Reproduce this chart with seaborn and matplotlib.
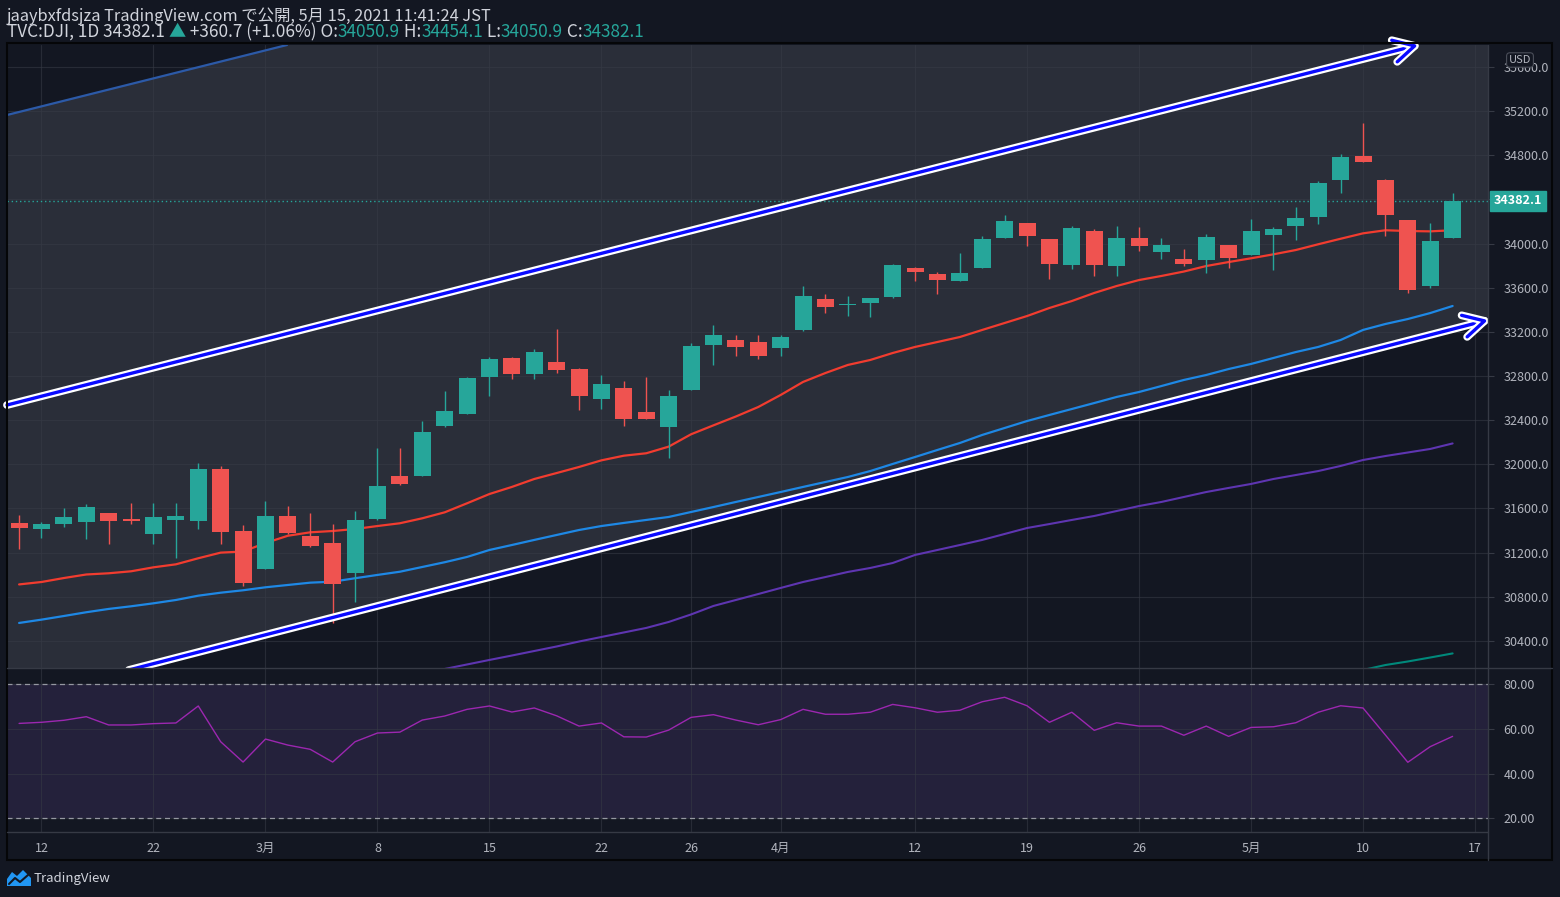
import numpy as np
import pandas as pd
import matplotlib
matplotlib.use("Agg")
import matplotlib.pyplot as plt
import matplotlib.patheffects as pe
from matplotlib.patches import Rectangle, Polygon
from matplotlib.lines import Line2D
import seaborn as sns

# ---------------------------------------------------
# Data (DJI daily, Feb 11 - May 14 2021)

dates = [
    "02-11", "02-12", "02-16", "02-17", "02-18", "02-19", "02-22", "02-23", "02-24", "02-25", "02-26",
    "03-01", "03-02", "03-03", "03-04", "03-05", "03-08", "03-09", "03-10", "03-11", "03-12",
    "03-15", "03-16", "03-17", "03-18", "03-19", "03-22", "03-23", "03-24", "03-25", "03-26",
    "03-29", "03-30", "03-31", "04-01", "04-05", "04-06", "04-07", "04-08", "04-09",
    "04-12", "04-13", "04-14", "04-15", "04-16", "04-19", "04-20", "04-21", "04-22", "04-23",
    "04-26", "04-27", "04-28", "04-29", "04-30", "05-03", "05-04", "05-05", "05-06", "05-07",
    "05-10", "05-11", "05-12", "05-13", "05-14",
]

opens = [
    31469, 31414, 31462, 31480, 31559, 31505, 31372, 31498, 31489, 31958, 31396,
    31055, 31532, 31351, 31287, 31018, 31507, 31894, 31897, 32350, 32459,
    32794, 32963, 32821, 32927, 32863, 32594, 32691, 32474, 32341, 32676,
    33083, 33126, 33110, 33054, 33219, 33497, 33440, 33464, 33518,
    33778, 33724, 33663, 33781, 34052, 34186, 34041, 33808, 34113, 33799,
    34050, 33926, 33860, 33853, 33986, 33899, 34080, 34161, 34243, 34578,
    34792, 34575, 34213, 33618, 34050.9,
]
highs = [
    31541, 31478, 31602, 31641, 31562, 31650, 31650, 31650, 32009, 31985, 31450,
    31668, 31622, 31559, 31460, 31577, 32148, 32148, 32392, 32664, 32791,
    32972, 32970, 33044, 33226, 32870, 32809, 32755, 32791, 32673, 33099,
    33262, 33171, 33170, 33167, 33615, 33543, 33524, 33510, 33815,
    33787, 33742, 33914, 34068, 34258, 34190, 34045, 34158, 34131, 34158,
    34149, 34050, 33950, 34086, 33990, 34222, 34149, 34331, 34566, 34811,
    35091, 34580, 34215, 34186, 34454.1,
]
lows = [
    31233, 31335, 31435, 31324, 31278, 31462, 31278, 31154, 31417, 31281, 30901,
    31050, 31369, 31251, 30560, 30756, 31500, 31813, 31890, 32341, 32455,
    32622, 32776, 32776, 32830, 32495, 32504, 32350, 32410, 32060, 32670,
    32902, 32981, 32950, 32985, 33210, 33373, 33346, 33337, 33510,
    33663, 33545, 33660, 33775, 34050, 33980, 33681, 33772, 33708, 33708,
    33935, 33862, 33799, 33736, 33781, 33895, 33763, 34034, 34179, 34460,
    34735, 34071, 33554, 33600, 34050.9,
]
closes = [
    31427, 31460, 31523, 31613, 31489, 31487, 31523, 31535, 31958, 31390, 30928,
    31532, 31381, 31263, 30919, 31496, 31804, 31824, 32293, 32483, 32782,
    32954, 32821, 33017, 32857, 32622, 32727, 32413, 32413, 32619, 33072,
    33171, 33063, 32982, 33153, 33524, 33428, 33446, 33506, 33805,
    33745, 33672, 33733, 34041, 34204, 34071, 33817, 34140, 33808, 34050,
    33980, 33986, 33817, 34059, 33871, 34113, 34131, 34231, 34548, 34783,
    34741, 34261, 33582, 34023, 34382.1,
]

ma_red = [
    30912, 30934, 30970, 31002, 31013, 31031, 31067, 31094, 31149, 31200, 31210,
    31287, 31353, 31384, 31396, 31414, 31441, 31466, 31511, 31565, 31647,
    31731, 31795, 31867, 31921, 31976, 32036, 32078, 32100, 32160, 32272,
    32353, 32433, 32519, 32628, 32746, 32827, 32900, 32945, 33008,
    33063, 33108, 33153, 33217, 33280, 33343, 33416, 33479, 33552, 33615,
    33669, 33706, 33746, 33796, 33832, 33866, 33902, 33941, 33993, 34043,
    34092, 34120, 34113, 34110, 34120,
]
ma_blue = [
    30563, 30593, 30626, 30660, 30690, 30714, 30741, 30771, 30810, 30837, 30859,
    30886, 30907, 30928, 30937, 30968, 30998, 31027, 31070, 31113, 31161,
    31224, 31269, 31315, 31360, 31405, 31441, 31469, 31496, 31523, 31568,
    31613, 31659, 31704, 31749, 31795, 31840, 31885, 31939, 32003,
    32066, 32130, 32193, 32266, 32329, 32392, 32447, 32501, 32555, 32610,
    32655, 32709, 32764, 32809, 32863, 32909, 32963, 33017, 33063, 33126,
    33217, 33271, 33316, 33370, 33434,
]
# purple line is only visible from Mar 9 on
ma_purple = [np.nan] * 17 + [
    30065, 30105, 30146, 30187, 30228, 30268, 30309, 30350, 30395, 30436,
    30477, 30518, 30572, 30640, 30717, 30771, 30825, 30880, 30934, 30979,
    31025, 31061, 31106, 31179, 31224, 31269, 31315, 31369, 31423, 31459,
    31496, 31532, 31577, 31622, 31659, 31704, 31749, 31786, 31822, 31867,
    31903, 31939, 31985, 32039, 32075, 32107, 32139, 32189,
]
# teal line only visible on the last days
ma_teal = [np.nan] * 60 + [30137, 30182, 30214, 30250, 30287]

rsi = [
    62.5, 63.0, 63.9, 65.5, 61.8, 61.8, 62.4, 62.7, 70.3, 54.3, 45.2,
    55.5, 52.8, 50.9, 45.2, 54.3, 58.2, 58.6, 64.0, 65.8, 68.8,
    70.3, 67.6, 69.4, 65.9, 61.3, 62.7, 56.5, 56.4, 59.5, 65.2,
    66.4, 64.0, 61.9, 64.2, 68.8, 66.6, 66.6, 67.5, 71.0,
    69.5, 67.5, 68.4, 72.2, 74.2, 70.4, 63.0, 67.5, 59.4, 62.8,
    61.3, 61.3, 57.2, 61.3, 56.7, 60.7, 61.0, 62.8, 67.5, 70.4,
    69.4, 57.3, 45.1, 52.1, 56.7,
]

tick_pos = [1, 6, 11, 16, 21, 26, 30, 34, 40, 45, 50, 55, 60, 65]
tick_labels = ["12", "22", "3月", "8", "15", "22", "26", "4月", "12", "19", "26", "5月", "10", "17"]
price_ticks = list(range(30400, 35700, 400))
rsi_ticks = [20, 40, 60, 80]

# drawn objects (bar index, price)
upper_arrow = [(-0.54, 32537), (62.46, 35798)]
lower_arrow = [(4.9, 30137), (65.58, 33307)]
channel_top = [(-0.54, 35164), (11.96, 35798)]

last_price = 34382.1

# ---------------------------------------------------
# Style

BG = "#131722"
PANE_FILL = "#2a2e39"
GRID = "#363a45"
TEXT = "#d1d4dc"
AXTXT = "#b2b5be"
UP = "#26a69a"
DOWN = "#ef5350"

sns.set_theme(style="dark", rc={"axes.facecolor": BG, "figure.facecolor": BG})
FONT = ["Noto Sans CJK JP", "DejaVu Sans"]
plt.rcParams["font.family"] = FONT

W, H = 1560, 897
fig = plt.figure(figsize=(W / 100, H / 100), dpi=100, facecolor=BG)


def px_axes(x0, y0, x1, y1):
    return fig.add_axes([x0 / W, 1 - y1 / H, (x1 - x0) / W, (y1 - y0) / H])


ax = px_axes(7, 45, 1488, 668)
rax = px_axes(7, 668, 1488, 832)

idx = np.arange(len(dates))
df = pd.DataFrame({
    "i": idx, "open": opens, "high": highs, "low": lows, "close": closes,
    "ma_red": ma_red, "ma_blue": ma_blue, "ma_purple": ma_purple,
    "ma_teal": ma_teal, "rsi": rsi,
})

xlim = (-0.54, 65.58)

# ---------------------------------------------------
# Main pane

ax.set_facecolor(BG)
ax.set_xlim(*xlim)
ax.set_ylim(30155, 35798)

# channel fill between top line and lower arrow line
(tx0, ty0), (tx1, ty1) = channel_top
(lx0, ly0), (lx1, ly1) = lower_arrow
xs = np.array(xlim)
top_y = ty0 + (ty1 - ty0) / (tx1 - tx0) * (xs - tx0)
low_y = ly0 + (ly1 - ly0) / (lx1 - lx0) * (xs - lx0)
ax.fill_between(xs, low_y, top_y, color=PANE_FILL, lw=0, zorder=0.2)
ax.plot([tx0, tx1], [ty0, ty1], color="#2c5aa8", lw=1.6, zorder=2)

ax.set_axisbelow(True)
ax.grid(True, color=GRID, lw=0.8, alpha=0.6)

for s in ax.spines.values():
    s.set_visible(False)

ax.set_xticks(tick_pos)
ax.tick_params(axis="x", length=0, labelbottom=False)
ax.yaxis.tick_right()
ax.set_yticks(price_ticks)
# the 34400 label sits under the last-price tag
ax.set_yticklabels(["" if abs(v - last_price) < 100 else f"{v:.1f}" for v in price_ticks])
ax.tick_params(axis="y", length=4, width=0.8, color=GRID, labelcolor=AXTXT,
               labelsize=9, pad=7)

# moving averages
sns.lineplot(data=df, x="i", y="ma_teal", ax=ax, color="#00897b", lw=1.5, zorder=3)
sns.lineplot(data=df, x="i", y="ma_purple", ax=ax, color="#5e35b1", lw=1.5, zorder=3)
sns.lineplot(data=df, x="i", y="ma_blue", ax=ax, color="#1e88e5", lw=1.6, zorder=3)
sns.lineplot(data=df, x="i", y="ma_red", ax=ax, color="#f23c2f", lw=1.6, zorder=3)
ax.set_xlabel("")
ax.set_ylabel("")

# candles
for i, o, h, l, c in zip(idx, opens, highs, lows, closes):
    col = UP if c >= o else DOWN
    ax.vlines(i, l, h, color=col, lw=1.0, zorder=4)
    ax.bar(i, max(abs(c - o), 9), bottom=min(o, c), width=0.76, color=col,
           lw=0, zorder=5)

# last price line
ax.axhline(last_price, color=UP, ls=(0, (1, 2)), lw=1, zorder=2)

# arrows
for (x0, y0), (x1, y1) in [upper_arrow, lower_arrow]:
    ann = ax.annotate("", xy=(x1, y1), xytext=(x0, y0),
                      arrowprops=dict(arrowstyle="->,head_length=1.5,head_width=0.8",
                                      color="#0a0aff", lw=2.4, shrinkA=0, shrinkB=0,
                                      mutation_scale=10),
                      zorder=6)
    ann.arrow_patch.set_path_effects([pe.Stroke(linewidth=5.6, foreground="white"),
                                      pe.Normal()])

# ---------------------------------------------------
# RSI pane

rax.set_facecolor(BG)
rax.set_xlim(*xlim)
rax.set_ylim(13.9, 87.3)
rax.axhspan(20, 80, color="#7e57c2", alpha=0.16, lw=0, zorder=0.2)
rax.set_axisbelow(True)
rax.grid(True, color=GRID, lw=0.8, alpha=0.6)
for lvl in [20, 80]:
    rax.axhline(lvl, color="#9598a1", ls=(0, (4, 3)), lw=0.9, zorder=2)
sns.lineplot(data=df, x="i", y="rsi", ax=rax, color="#9c27b0", lw=1.0, zorder=3)
for s in rax.spines.values():
    s.set_visible(False)
rax.set_xticks(tick_pos)
rax.set_xticklabels(tick_labels)
rax.tick_params(axis="x", length=0, pad=7, labelcolor=AXTXT, labelsize=9)
rax.yaxis.tick_right()
rax.set_yticks(rsi_ticks)
rax.set_yticklabels([f"{v:.2f}" for v in rsi_ticks])
rax.tick_params(axis="y", length=4, width=0.8, color=GRID, labelcolor=AXTXT,
                labelsize=9, pad=7)
rax.set_xlabel("")
rax.set_ylabel("")

# ---------------------------------------------------
# Frame, separators, labels


def fx(x):
    return x / W


def fy(y):
    return 1 - y / H


fig.add_artist(Line2D([fx(7), fx(1552)], [fy(668), fy(668)], color=GRID, lw=1))
fig.add_artist(Line2D([fx(7), fx(1488)], [fy(832), fy(832)], color=GRID, lw=1))
fig.add_artist(Line2D([fx(1488), fx(1488)], [fy(45), fy(860)], color=GRID, lw=1))
fig.add_artist(Rectangle((fx(7), fy(860)), fx(1545), (860 - 43) / H, fill=False,
                         edgecolor="#050608", lw=1.5))

# last price tag
fig.text(fx(1518), fy(201), f"{last_price:.1f}", color="white", fontsize=9,
         fontweight="bold", ha="center", va="center",
         bbox=dict(boxstyle="square,pad=0.3", fc=UP, ec=UP))

# USD badge
fig.text(fx(1520), fy(60), "USD", color=AXTXT, fontsize=8, ha="center", va="center",
         bbox=dict(boxstyle="round,pad=0.2,rounding_size=0.3", fc=BG, ec="#4a4e59", lw=0.8))

# header
renderer = fig.canvas.get_renderer()


def write_line(parts, y_px, size):
    x = 7
    for s, c in parts:
        t = fig.text(fx(x), fy(y_px), s, color=c, fontsize=size, ha="left",
                     va="center", family=FONT)
        x += t.get_window_extent(renderer).width


write_line([("jaaybxfdsjza TradingView.com で公開, 5月 15, 2021 11:41:24 JST", TEXT)], 16, 11.8)
write_line([
    ("TVC:DJI, 1D 34382.1 ", TEXT), ("▲", UP), (" +360.7 (+1.06%) O:", TEXT),
    ("34050.9", UP), (" H:", TEXT), ("34454.1", UP), (" L:", TEXT),
    ("34050.9", UP), (" C:", TEXT), ("34382.1", UP),
], 32, 12.4)

# TradingView logo
fig.add_artist(Polygon([(fx(7), fy(886)), (fx(7), fy(879)), (fx(12), fy(872)),
                        (fx(17), fy(876)), (fx(23), fy(870)), (fx(31), fy(878)),
                        (fx(31), fy(886))], closed=True, fc="#2196f3", ec="none"))
fig.add_artist(Line2D([fx(9), fx(15), fx(20), fx(28)], [fy(884), fy(878), fy(882), fy(875)],
                      color=BG, lw=1.5))
fig.text(fx(34), fy(878), "TradingView", color=TEXT, fontsize=9.5, ha="left", va="center")

fig.savefig("out.png", dpi=100, facecolor=BG)
